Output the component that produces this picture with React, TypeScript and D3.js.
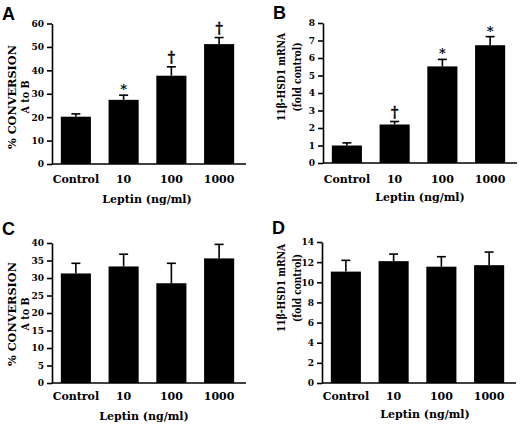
import { useEffect, useRef } from "react"
import * as d3 from "d3"

const categories = ["Control", "10", "100", "1000"]

// panel A: % conversion A to B
const convA = [20.2, 27.4, 37.7, 51.2]
const convAErr = [1.2, 2.0, 3.8, 2.8]
const marksA = ["", "*", "†", "†"]
const ticksA = [0, 10, 20, 30, 40, 50, 60]

// panel B: 11β-HSD1 mRNA
const mrnaB = [1.0, 2.2, 5.52, 6.73]
const mrnaBErr = [0.15, 0.17, 0.4, 0.49]
const marksB = ["", "†", "*", "*"]
const ticksB = [0, 1, 2, 3, 4, 5, 6, 7, 8]

// panel C
const convC = [31.3, 33.3, 28.5, 35.6]
const convCErr = [2.9, 3.5, 5.7, 4.0]
const ticksC = [0, 5, 10, 15, 20, 25, 30, 35, 40]

// panel D
const mrnaD = [11.06, 12.1, 11.55, 11.7]
const mrnaDErr = [1.12, 0.7, 0.99, 1.3]
const ticksD = [0, 2, 4, 6, 8, 10, 12, 14]

const convLabel = ["% CONVERSION", "A to B"]
const mrnaLabel = ["11β-HSD1 mRNA", "(fold control)"]
const xTitle = "Leptin (ng/ml)"

const SERIF = "'DejaVu Serif', serif"

interface PanelCfg {
  letter: string
  letterY: number
  values: number[]
  errors: number[]
  marks: string[]
  ticks: number[]
  yLabel: string[]
  labelLen: [number, number]
  labelY: number
  labelX: [number, number]
  x0: number
  top: number
  bottom: number
  catY: number
  titleX: number
  titleY: number
}

function drawPanel(svg: d3.Selection<SVGSVGElement, unknown, null, undefined>, cfg: PanelCfg) {
  const g = svg.append("g")
  const yMax = cfg.ticks[cfg.ticks.length - 1]

  const x = d3.scaleBand<string>()
    .domain(categories)
    .range([cfg.x0, cfg.x0 + 191])
    .paddingInner(0.37)
    .paddingOuter(0.185)

  const y = d3.scaleLinear()
    .domain([0, yMax])
    .range([cfg.bottom, cfg.top])

  const rows = categories.map((c, i) => ({
    cat: c,
    v: cfg.values[i],
    e: cfg.errors[i],
    mark: cfg.marks[i] || "",
  }))
  const cx = (c: string) => x(c)! + x.bandwidth() / 2

  // error bars (upper only)
  const err = g.selectAll(".err").data(rows).enter().append("g")
  err.append("line")
    .attr("x1", (d) => cx(d.cat))
    .attr("x2", (d) => cx(d.cat))
    .attr("y1", (d) => y(d.v))
    .attr("y2", (d) => y(d.v + d.e))
    .attr("stroke", "#000")
    .attr("stroke-width", 1.6)
  err.append("line")
    .attr("x1", (d) => cx(d.cat) - 4.5)
    .attr("x2", (d) => cx(d.cat) + 4.5)
    .attr("y1", (d) => y(d.v + d.e))
    .attr("y2", (d) => y(d.v + d.e))
    .attr("stroke", "#000")
    .attr("stroke-width", 1.6)

  // bars
  g.selectAll(".bar").data(rows).enter().append("rect")
    .attr("x", (d) => x(d.cat)!)
    .attr("y", (d) => y(d.v))
    .attr("width", x.bandwidth())
    .attr("height", (d) => cfg.bottom - y(d.v))
    .attr("fill", "#000")

  // significance marks
  g.selectAll(".mark").data(rows.filter((d) => d.mark)).enter().append("text")
    .attr("x", (d) => cx(d.cat))
    .attr("y", (d) => y(d.v + d.e) - (d.mark === "*" ? 1 : 5))
    .attr("text-anchor", "middle")
    .attr("font-family", SERIF)
    .attr("font-weight", "bold")
    .attr("font-size", (d) => (d.mark === "*" ? 13 : 14))
    .attr("fill", "#000")
    .attr("stroke", (d) => (d.mark === "*" ? "none" : "#000"))
    .attr("stroke-width", 0.4)
    .text((d) => d.mark)

  // y axis
  const yAxis = g.append("g")
    .attr("transform", `translate(${cfg.x0},0)`)
    .call(d3.axisLeft(y).tickValues(cfg.ticks).tickSize(5).tickSizeOuter(0).tickPadding(3))
  yAxis.select(".domain").attr("stroke-width", 1.6)
  yAxis.selectAll(".tick line").attr("stroke-width", 1.6)
  yAxis.selectAll(".tick text")
    .attr("font-family", SERIF)
    .attr("font-weight", "bold")
    .attr("font-size", 9)
    .attr("fill", "#000")

  // x axis line
  g.append("line")
    .attr("x1", cfg.x0)
    .attr("x2", cfg.x0 + 194)
    .attr("y1", cfg.bottom)
    .attr("y2", cfg.bottom)
    .attr("stroke", "#000")
    .attr("stroke-width", 1.6)

  // category labels
  g.selectAll(".cat").data(categories).enter().append("text")
    .attr("x", (d) => cx(d))
    .attr("y", cfg.catY)
    .attr("text-anchor", "middle")
    .attr("font-family", SERIF)
    .attr("font-weight", "bold")
    .attr("font-size", 11)
    .text((d) => d)

  // x title
  g.append("text")
    .attr("x", cfg.titleX)
    .attr("y", cfg.titleY)
    .attr("text-anchor", "middle")
    .attr("font-family", SERIF)
    .attr("font-weight", "bold")
    .attr("font-size", 11)
    .text(xTitle)

  // y title, two lines
  cfg.yLabel.forEach((line, i) => {
    g.append("text")
      .attr("transform", `translate(${cfg.labelX[i]},${cfg.labelY}) rotate(-90)`)
      .attr("dy", "0.35em")
      .attr("text-anchor", "middle")
      .attr("font-family", SERIF)
      .attr("font-weight", "bold")
      .attr("font-size", 11)
      .attr("textLength", cfg.labelLen[i])
      .attr("lengthAdjust", "spacingAndGlyphs")
      .text(line)
  })

  // panel letter
  g.append("text")
    .attr("x", cfg.x0 - 50)
    .attr("y", cfg.letterY)
    .attr("font-family", "'Liberation Sans', Arial, sans-serif")
    .attr("font-weight", "bold")
    .attr("font-size", 18)
    .text(cfg.letter)
}

export default function App() {
  const svgRef = useRef<SVGSVGElement>(null)

  useEffect(() => {
    if (!svgRef.current) return
    const svg = d3.select(svgRef.current)
    svg.selectAll("*").remove()

    drawPanel(svg, {
      letter: "A", letterY: 19.5, values: convA, errors: convAErr, marks: marksA, ticks: ticksA,
      yLabel: convLabel, labelLen: [104, 33], labelY: 97, labelX: [12, 25],
      x0: 52, top: 23.5, bottom: 164, catY: 183, titleX: 147, titleY: 203,
    })
    drawPanel(svg, {
      letter: "B", letterY: 19, values: mrnaB, errors: mrnaBErr, marks: marksB, ticks: ticksB,
      yLabel: mrnaLabel, labelLen: [88, 69], labelY: 77, labelX: [281, 297],
      x0: 323, top: 23, bottom: 163, catY: 183, titleX: 420, titleY: 201,
    })
    drawPanel(svg, {
      letter: "C", letterY: 234.5, values: convC, errors: convCErr, marks: [], ticks: ticksC,
      yLabel: convLabel, labelLen: [104, 33], labelY: 314, labelX: [12, 25],
      x0: 52, top: 243, bottom: 383, catY: 400, titleX: 144, titleY: 420,
    })
    drawPanel(svg, {
      letter: "D", letterY: 233.5, values: mrnaD, errors: mrnaDErr, marks: [], ticks: ticksD,
      yLabel: mrnaLabel, labelLen: [88, 68], labelY: 288, labelX: [281, 297],
      x0: 322, top: 242, bottom: 383, catY: 400, titleX: 425, titleY: 418,
    })
  }, [])

  return (
    <svg
      ref={svgRef}
      width={520}
      height={426}
      style={{ position: "absolute", left: 0, top: 0, background: "#fff" }}
    />
  )
}
